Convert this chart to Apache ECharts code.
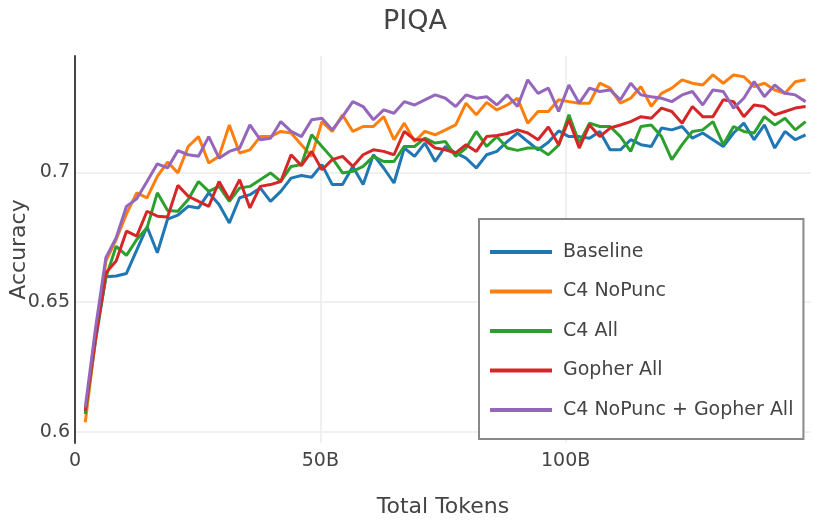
<!DOCTYPE html>
<html>
<head>
<meta charset="utf-8">
<script src="https://cdn.jsdelivr.net/npm/echarts@6/dist/echarts.min.js"></script>
<style>
html,body{margin:0;padding:0;background:#fff;}
#chart{width:830px;height:520px;}
</style>
</head>
<body>
<div id="chart"></div>
<script>
// Total tokens (billions) at each evaluation
var tokens = [2.10,4.19,6.29,8.39,10.49,12.58,14.68,16.78,18.87,20.97,23.07,25.17,27.26,29.36,31.46,33.55,35.65,37.75,39.85,41.94,44.04,46.14,48.23,50.33,52.43,54.53,56.62,58.72,60.82,62.91,65.01,67.11,69.21,71.30,73.40,75.50,77.59,79.69,81.79,83.89,85.98,88.08,90.18,92.27,94.37,96.47,98.57,100.66,102.76,104.86,106.95,109.05,111.15,113.25,115.34,117.44,119.54,121.63,123.73,125.83,127.93,130.02,132.12,134.22,136.31,138.41,140.51,142.61,144.70,146.80,148.90];

var seriesNames = ["Baseline","C4 NoPunc","C4 All","Gopher All","C4 NoPunc + Gopher All"];

var baseline = [0.607,0.635,0.6597,0.660,0.661,0.670,0.679,0.669,0.682,0.6835,0.6869,0.6863,0.6921,0.6876,0.6805,0.6902,0.6914,0.6940,0.6888,0.6927,0.6978,0.6988,0.6981,0.7030,0.6953,0.6953,0.7023,0.6953,0.7068,0.7017,0.6959,0.7094,0.7062,0.7113,0.7042,0.7100,0.7075,0.7055,0.7017,0.7068,0.7081,0.7119,0.7152,0.7119,0.7087,0.7116,0.7160,0.7138,0.7138,0.7132,0.7158,0.7087,0.7087,0.7126,0.7107,0.7100,0.7171,0.7164,0.7177,0.7132,0.7152,0.7126,0.7100,0.7152,0.7190,0.7126,0.7183,0.7094,0.7158,0.7126,0.7145];

var c4NoPunc = [0.6036,0.636,0.6658,0.6741,0.684,0.6921,0.6902,0.6985,0.7040,0.6998,0.7100,0.7138,0.7036,0.7062,0.7183,0.7075,0.7087,0.7138,0.7138,0.7158,0.7152,0.7107,0.7062,0.7196,0.7158,0.7222,0.7158,0.7177,0.7177,0.7215,0.7126,0.7190,0.7119,0.7158,0.7145,0.7164,0.7183,0.7267,0.7222,0.7270,0.7241,0.7260,0.7286,0.7190,0.7235,0.7235,0.7280,0.7273,0.7267,0.7267,0.7344,0.7325,0.7267,0.7286,0.7331,0.7255,0.7305,0.7325,0.7357,0.7344,0.7337,0.7376,0.7344,0.7376,0.7369,0.7331,0.7344,0.7318,0.7305,0.7350,0.7357];

var c4All = [0.6068,0.637,0.6594,0.6715,0.6680,0.6741,0.6786,0.6921,0.6853,0.6850,0.6895,0.6965,0.6927,0.6946,0.6888,0.6940,0.6946,0.6972,0.6998,0.6965,0.7023,0.7030,0.7145,0.7100,0.7055,0.6998,0.7004,0.7023,0.7062,0.7042,0.7042,0.7100,0.7100,0.7132,0.7113,0.7119,0.7062,0.7094,0.7158,0.7100,0.7138,0.7094,0.7085,0.7094,0.7094,0.7068,0.7105,0.7222,0.7113,0.7190,0.7177,0.7177,0.7138,0.7081,0.7177,0.7183,0.7138,0.7049,0.7107,0.7158,0.7164,0.7196,0.7107,0.7177,0.7158,0.7152,0.7215,0.7183,0.7209,0.7164,0.7196];

var gopherAll = [0.6081,0.636,0.6613,0.6658,0.6773,0.6754,0.6850,0.6831,0.6828,0.6950,0.6908,0.6888,0.6869,0.6965,0.6895,0.6972,0.6863,0.6946,0.6953,0.6965,0.7068,0.7026,0.7081,0.7010,0.7049,0.7062,0.7023,0.7068,0.7087,0.7081,0.7068,0.7158,0.7126,0.7126,0.7094,0.7087,0.7075,0.7107,0.7081,0.7138,0.7142,0.7150,0.7164,0.7152,0.7126,0.7175,0.7107,0.7203,0.7094,0.7183,0.7138,0.7171,0.7183,0.7196,0.7215,0.7209,0.7248,0.7235,0.7190,0.7254,0.7215,0.7215,0.7280,0.7273,0.7215,0.7260,0.7254,0.7222,0.7235,0.7248,0.7254];

var c4NoPuncGopher = [0.6094,0.640,0.6671,0.6748,0.6869,0.6898,0.6965,0.7033,0.7017,0.7084,0.7068,0.7062,0.7138,0.7055,0.7081,0.7094,0.7183,0.7126,0.7132,0.7196,0.7158,0.7138,0.7203,0.7209,0.7164,0.7215,0.7273,0.7254,0.7203,0.7241,0.7228,0.7273,0.7260,0.7280,0.7299,0.7286,0.7254,0.7299,0.7286,0.7292,0.7260,0.7299,0.7254,0.7357,0.7305,0.7325,0.7235,0.7337,0.7267,0.7325,0.7312,0.7318,0.7280,0.7344,0.7299,0.7292,0.7286,0.7273,0.7299,0.7312,0.7260,0.7318,0.7312,0.7248,0.7286,0.7350,0.7292,0.7337,0.7305,0.7299,0.7273];

var xTickValues = [0, 50, 100];
var xTickLabels = ["0", "50B", "100B"];
var colors = ["#1f77b4","#ff7f0e","#2ca02c","#d62728","#9467bd"];

var allValues = [baseline, c4NoPunc, c4All, gopherAll, c4NoPuncGopher];
var FONT = "DejaVu Sans";

function pairs(vals){
  return tokens.map(function(t,i){ return [t, vals[i]]; });
}

var chart = echarts.init(document.getElementById('chart'), null, {renderer:'canvas'});
chart.setOption({
  animation: false,
  backgroundColor: '#fff',
  textStyle: {fontFamily: FONT},
  title: {
    text: 'PIQA', left: 'center', top: 8, padding: 0,
    textStyle: {fontFamily: FONT, fontSize: 27, fontWeight: 'normal', color: '#444'}
  },
  grid: {left: 75, right: 19, top: 56, bottom: 77, containLabel: false, outerBoundsMode: 'none'},
  xAxis: {
    type: 'value', min: 0, max: 150, interval: 50,
    name: 'Total Tokens', nameLocation: 'middle', nameGap: 53, nameMoveOverlap: false,
    nameTextStyle: {fontFamily: FONT, fontSize: 22, color: '#444'},
    axisLine: {show: false}, axisTick: {show: false},
    axisLabel: {
      fontFamily: FONT, fontSize: 19, color: '#444', margin: 9, showMaxLabel: false,
      formatter: function(v){ var i = xTickValues.indexOf(v); return i >= 0 ? xTickLabels[i] : ''; }
    },
    splitLine: {show: true, showMinLine: false, showMaxLine: false, lineStyle: {color: '#ebebeb', width: 1.5}}
  },
  yAxis: {
    type: 'value', min: 0.5956, max: 0.7449, splitNumber: 3,
    name: 'Accuracy', nameLocation: 'middle', nameGap: 45, nameMoveOverlap: false,
    nameTextStyle: {fontFamily: FONT, fontSize: 22, color: '#444'},
    axisLine: {show: true, lineStyle: {color: '#444', width: 2}},
    axisTick: {show: false},
    axisLabel: {
      fontFamily: FONT, fontSize: 19, color: '#444', margin: 5,
      showMinLabel: false, showMaxLabel: false,
      formatter: function(v){ return String(+v.toFixed(2)); }
    },
    splitLine: {show: true, showMinLine: false, showMaxLine: false, lineStyle: {color: '#ebebeb', width: 1.5}}
  },
  legend: {
    orient: 'vertical', left: 479, top: 219,
    backgroundColor: '#fff', borderColor: '#888', borderWidth: 2,
    padding: [23, 10, 19, 11],
    itemWidth: 62, itemHeight: 4, itemGap: 19.5, icon: 'rect',
    textStyle: {fontFamily: FONT, fontSize: 19, color: '#444', lineHeight: 20, padding: [0,0,0,6]},
    data: seriesNames
  },
  series: seriesNames.map(function(n, i){
    return {
      name: n, type: 'line', data: pairs(allValues[i]),
      showSymbol: false, symbol: 'none', smooth: false,
      lineStyle: {width: 3, color: colors[i]}, itemStyle: {color: colors[i]},
      z: 2 + i
    };
  })
});
</script>
</body>
</html>
